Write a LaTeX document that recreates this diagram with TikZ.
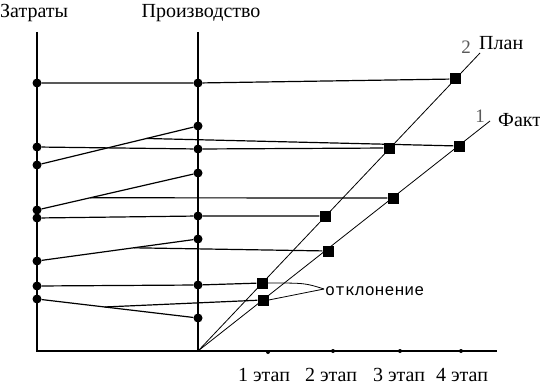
\documentclass[tikz,border=0pt]{standalone}
\usepackage{fontspec}
\setmainfont{Liberation Serif}
\newfontfamily\monof{Liberation Mono}
\usetikzlibrary{calc}
\begin{document}
\begin{tikzpicture}[x=1pt,y=-1pt,
  dot/.style={circle,fill=black,inner sep=0pt,minimum size=9pt},
  tick/.style={circle,fill=black,inner sep=0pt,minimum size=4pt},
  sq/.style={rectangle,fill=black,inner sep=0pt,minimum size=11pt},
  ln/.style={line width=1.2pt},
  thin ln/.style={line width=0.8pt},
  ax/.style={line width=1.5pt},
  lbl/.style={font=\fontsize{20}{20}\selectfont,inner sep=0pt},
  num/.style={font=\fontsize{19}{19}\selectfont,inner sep=0pt,text=black!65}]
\useasboundingbox (0,0) rectangle (540,385);
% axes
\coordinate (Ltop) at (37,32); \coordinate (Lbot) at (37,351);
\coordinate (Mtop) at (198,32); \coordinate (O) at (198,351);
\coordinate (Xend) at (497,351);
\draw[ax] (Ltop) -- (Lbot) -- (Xend);
\draw[ax] (Mtop) -- (O);
% left dots
\node[dot] (L1) at (37,83) {};
\node[dot] (L2) at (37,147) {};
\node[dot] (L3) at (37,165) {};
\node[dot] (L4) at (37,210) {};
\node[dot] (L5) at (37,218) {};
\node[dot] (L6) at (37,261) {};
\node[dot] (L7) at (37,286) {};
\node[dot] (L8) at (37,299) {};
% middle dots
\node[dot] (M1) at (198,83) {};
\node[dot] (M2) at (198,126) {};
\node[dot] (M3) at (198,149) {};
\node[dot] (M4) at (198,173) {};
\node[dot] (M5) at (198,216) {};
\node[dot] (M6) at (198,239) {};
\node[dot] (M7) at (198,285) {};
\node[dot] (M8) at (198,318) {};
% plan and fact lines
\coordinate (Pend) at (480,53);
\coordinate (Fend) at (490,121);
\draw[thin ln] (O) -- (Pend);
\draw[thin ln] (O) -- (Fend);
\node[sq] (P1) at (262,283) {};
\node[sq] (P2) at (325,216) {};
\node[sq] (P3) at (389,148) {};
\node[sq] (P4) at (455,79) {};
\node[sq] (F1) at (263,300) {};
\node[sq] (F2) at (328,251) {};
\node[sq] (F3) at (393,198) {};
\node[sq] (F4) at (459,146) {};
% connections
\draw[ln] (L1) -- (M1) -- (P4);
\draw[ln] (L2) -- (M3) -- (P3);
\draw[ln] (L3) -- (M2);
\draw[ln] (L4) -- (M4);
\draw[ln] (L5) -- (M5) -- (P2);
\draw[ln] (L6) -- (M6);
\draw[ln] (L7) -- (M7) -- (P1);
\draw[ln] (L8) -- (M8);
\coordinate (S4) at ($(L3)!0.68!(M2)$);
\coordinate (S3) at ($(L4)!0.33!(M4)$);
\coordinate (S2) at ($(L6)!0.6!(M6)$);
\coordinate (S1) at ($(L8)!0.42!(M8)$);
\draw[ln] (S4) -- (F4);
\draw[ln] (S3) -- (F3);
\draw[ln] (S2) -- (F2);
\draw[ln] (S1) -- (F1);
% callout
\coordinate (C) at (324,289);
\draw[thin ln] (P1.east) .. controls (305,283) .. (C);
\draw[thin ln] (F1.east) -- (C);
\node[font=\monof\fontsize{16.5}{16.5}\selectfont,inner sep=0pt,anchor=west] (dev) at (325,291) {отклонение};
% ticks
\node[tick] (T1) at (268,352) {};
\node[tick] (T2) at (333,351) {};
\node[tick] (T3) at (400,351) {};
\node[tick] (T4) at (461,351) {};
\node[lbl] (E1) at (264,375) {1 этап};
\node[lbl] (E2) at (331,375) {2 этап};
\node[lbl] (E3) at (399,375) {3 этап};
\node[lbl] (E4) at (462,375) {4 этап};
% titles
\node[lbl,anchor=west] (Z) at (0,13) {Затраты};
\node[lbl] (Pr) at (201,13) {Производство};
\node[num] (n2) at (466,47) {2};
\node[lbl,anchor=west] (plan) at (479,43) {План};
\node[num] (n1) at (480,116) {1};
\node[lbl,anchor=west] (fakt) at (498,120) {Факт};
\end{tikzpicture}
\end{document}
